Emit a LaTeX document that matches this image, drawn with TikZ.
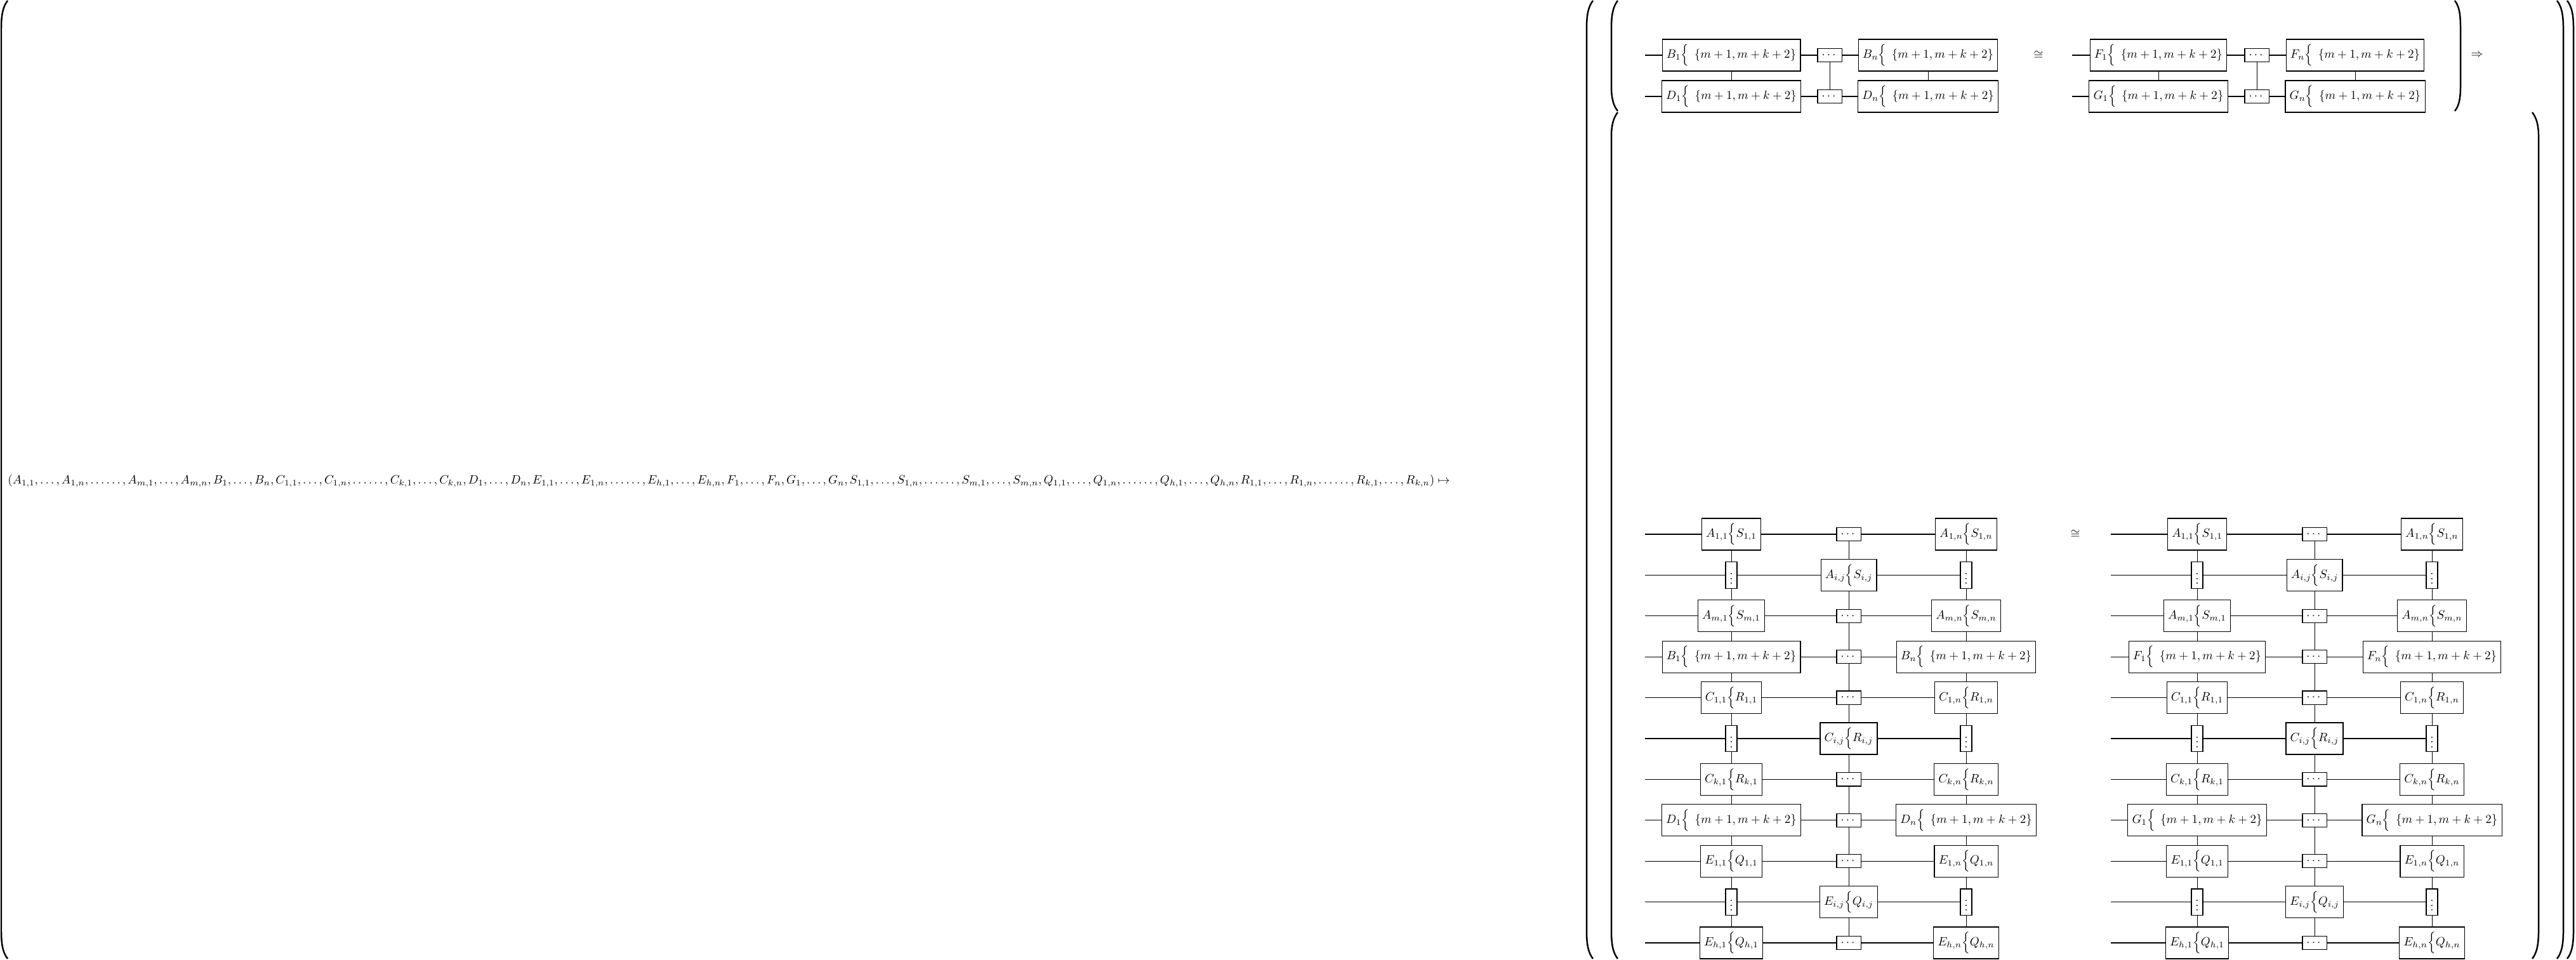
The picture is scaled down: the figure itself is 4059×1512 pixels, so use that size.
\documentclass[tikz,border=0pt]{standalone}
\usepackage{amsmath}
\tikzset{
  bx/.style={draw, line width=0.6pt, fill=white},
  mbox/.style={bx, inner sep=3.5pt, minimum height=26.25pt},
  dbox/.style={bx, inner sep=3.33pt},
  hw/.style={line width=0.7pt},
  vw/.style={line width=0.45pt},
  paren/.style={line width=1.3pt}
}
\newcommand\mset{\;\,\{m+1,m+k+2\}}
\newcommand\lowgrid[5]{%
\pgfmathsetmacro\ca{#2}\pgfmathsetmacro\cb{#2+185}\pgfmathsetmacro\cc{#2+370}%
\node[mbox] (#1-0-1) at (\ca,842) {$A_{1,1}\Big\{S_{1,1}$};
\node[dbox] (#1-0-2) at (\cb,842) {$\cdots$};
\node[mbox] (#1-0-3) at (\cc,842) {$A_{1,n}\Big\{S_{1,n}$};
\node[dbox] (#1-1-1) at (\ca,906.4) {$\vdots$};
\node[mbox] (#1-1-2) at (\cb,906.4) {$A_{i,j}\Big\{S_{i,j}$};
\node[dbox] (#1-1-3) at (\cc,906.4) {$\vdots$};
\node[mbox] (#1-2-1) at (\ca,970.8) {$A_{m,1}\Big\{S_{m,1}$};
\node[dbox] (#1-2-2) at (\cb,970.8) {$\cdots$};
\node[mbox] (#1-2-3) at (\cc,970.8) {$A_{m,n}\Big\{S_{m,n}$};
\node[mbox] (#1-3-1) at (\ca,1035.2) {$#4_1\Big\{\mset$};
\node[dbox] (#1-3-2) at (\cb,1035.2) {$\cdots$};
\node[mbox] (#1-3-3) at (\cc,1035.2) {$#4_n\Big\{\mset$};
\node[mbox] (#1-4-1) at (\ca,1099.6) {$C_{1,1}\Big\{R_{1,1}$};
\node[dbox] (#1-4-2) at (\cb,1099.6) {$\cdots$};
\node[mbox] (#1-4-3) at (\cc,1099.6) {$C_{1,n}\Big\{R_{1,n}$};
\node[dbox] (#1-5-1) at (\ca,1164) {$\vdots$};
\node[mbox] (#1-5-2) at (\cb,1164) {$C_{i,j}\Big\{R_{i,j}$};
\node[dbox] (#1-5-3) at (\cc,1164) {$\vdots$};
\node[mbox] (#1-6-1) at (\ca,1228.4) {$C_{k,1}\Big\{R_{k,1}$};
\node[dbox] (#1-6-2) at (\cb,1228.4) {$\cdots$};
\node[mbox] (#1-6-3) at (\cc,1228.4) {$C_{k,n}\Big\{R_{k,n}$};
\node[mbox] (#1-7-1) at (\ca,1292.8) {$#5_1\Big\{\mset$};
\node[dbox] (#1-7-2) at (\cb,1292.8) {$\cdots$};
\node[mbox] (#1-7-3) at (\cc,1292.8) {$#5_n\Big\{\mset$};
\node[mbox] (#1-8-1) at (\ca,1357.2) {$E_{1,1}\Big\{Q_{1,1}$};
\node[dbox] (#1-8-2) at (\cb,1357.2) {$\cdots$};
\node[mbox] (#1-8-3) at (\cc,1357.2) {$E_{1,n}\Big\{Q_{1,n}$};
\node[dbox] (#1-9-1) at (\ca,1421.6) {$\vdots$};
\node[mbox] (#1-9-2) at (\cb,1421.6) {$E_{i,j}\Big\{Q_{i,j}$};
\node[dbox] (#1-9-3) at (\cc,1421.6) {$\vdots$};
\node[mbox] (#1-10-1) at (\ca,1486) {$E_{h,1}\Big\{Q_{h,1}$};
\node[dbox] (#1-10-2) at (\cb,1486) {$\cdots$};
\node[mbox] (#1-10-3) at (\cc,1486) {$E_{h,n}\Big\{Q_{h,n}$};
\foreach \r/\y in {0/842,1/906.4,2/970.8,3/1035.2,4/1099.6,5/1164,6/1228.4,7/1292.8,8/1357.2,9/1421.6,10/1486}{
  \coordinate (#1-\r-s) at (#3,\y);
  \draw[hw] (#1-\r-s) -- (#1-\r-1) -- (#1-\r-2) -- (#1-\r-3);
}
\foreach \c in {1,2,3}{
  \draw[vw] (#1-0-\c) -- (#1-1-\c) -- (#1-2-\c) -- (#1-3-\c) -- (#1-4-\c) -- (#1-5-\c) -- (#1-6-\c) -- (#1-7-\c) -- (#1-8-\c) -- (#1-9-\c) -- (#1-10-\c);
}
}
\newcommand\topgrp[5]{%
\pgfmathsetmacro\ta{#2}\pgfmathsetmacro\tb{#2+155}\pgfmathsetmacro\tc{#2+310}%
\node[mbox] (#1-0-1) at (\ta,87) {$#4_1\Big\{\mset$};
\node[dbox] (#1-0-2) at (\tb,87) {$\cdots$};
\node[mbox] (#1-0-3) at (\tc,87) {$#4_n\Big\{\mset$};
\node[mbox] (#1-1-1) at (\ta,152) {$#5_1\Big\{\mset$};
\node[dbox] (#1-1-2) at (\tb,152) {$\cdots$};
\node[mbox] (#1-1-3) at (\tc,152) {$#5_n\Big\{\mset$};
\coordinate (#1-0-s) at (#3,87);
\coordinate (#1-1-s) at (#3,152);
\foreach \r in {0,1}{\draw[hw] (#1-\r-s) -- (#1-\r-1) -- (#1-\r-2) -- (#1-\r-3);}
\foreach \c in {1,2,3}{\draw[vw] (#1-0-\c) -- (#1-1-\c);}
}
\begin{document}
\begin{tikzpicture}[x=0.525pt,y=-0.525pt]
\useasboundingbox (0,0) rectangle (4059,1512);
% formula
\node[anchor=west, inner sep=0pt] (formula) at (12,758) {$(A_{1,1},\ldots,A_{1,n},\ldots\ldots,A_{m,1},\ldots,A_{m,n},B_1,\ldots,B_n,C_{1,1},\ldots,C_{1,n},\ldots\ldots,C_{k,1},\ldots,C_{k,n},D_1,\ldots,D_n,E_{1,1},\ldots,E_{1,n},\ldots\ldots,E_{h,1},\ldots,E_{h,n},F_1,\ldots,F_n,G_1,\ldots,G_n,S_{1,1},\ldots,S_{1,n},\ldots\ldots,S_{m,1},\ldots,S_{m,n},Q_{1,1},\ldots,Q_{1,n},\ldots\ldots,Q_{h,1},\ldots,Q_{h,n},R_{1,1},\ldots,R_{1,n},\ldots\ldots,R_{k,1},\ldots,R_{k,n})\mapsto$};
% parentheses
\draw[paren] (12,1) .. controls (5,10) and (2,22) .. (2,45) -- (2,1467) .. controls (2,1490) and (5,1502) .. (12,1511);
\draw[paren] (2510,1) .. controls (2503,10) and (2500,22) .. (2500,45) -- (2500,1467) .. controls (2500,1490) and (2503,1502) .. (2510,1511);
\draw[paren] (2549,1) .. controls (2542,10) and (2539,22) .. (2539,45) -- (2539,135) .. controls (2539,155) and (2542,166) .. (2549,175);
\draw[paren] (2549,177) .. controls (2542,186) and (2539,198) .. (2539,215) -- (2539,1467) .. controls (2539,1490) and (2542,1502) .. (2549,1511);
\draw[paren] (3868,1) .. controls (3875,10) and (3877,22) .. (3877,45) -- (3877,135) .. controls (3877,155) and (3875,166) .. (3868,175);
\draw[paren] (3990,177) .. controls (3997,186) and (4000,198) .. (4000,215) -- (4000,1467) .. controls (4000,1490) and (3997,1502) .. (3990,1511);
\draw[paren] (4029,1) .. controls (4036,10) and (4039,22) .. (4039,45) -- (4039,1467) .. controls (4039,1490) and (4036,1502) .. (4029,1511);
\draw[paren] (4045,1) .. controls (4052,10) and (4055,22) .. (4055,45) -- (4055,1467) .. controls (4055,1490) and (4052,1502) .. (4045,1511);
% top group
\topgrp{TL}{2728}{2592}{B}{D}
\topgrp{TR}{3401}{3265}{F}{G}
\node[inner sep=1pt] (cong1) at (3212,87) {$\cong$};
\node[inner sep=1pt] (impl) at (3903,87) {$\Rightarrow$};
% lower group
\lowgrid{LL}{2728}{2592}{B}{D}
\lowgrid{LR}{3462}{3326}{F}{G}
\node[inner sep=1pt] (cong2) at (3270,842) {$\cong$};
\end{tikzpicture}
\end{document}
